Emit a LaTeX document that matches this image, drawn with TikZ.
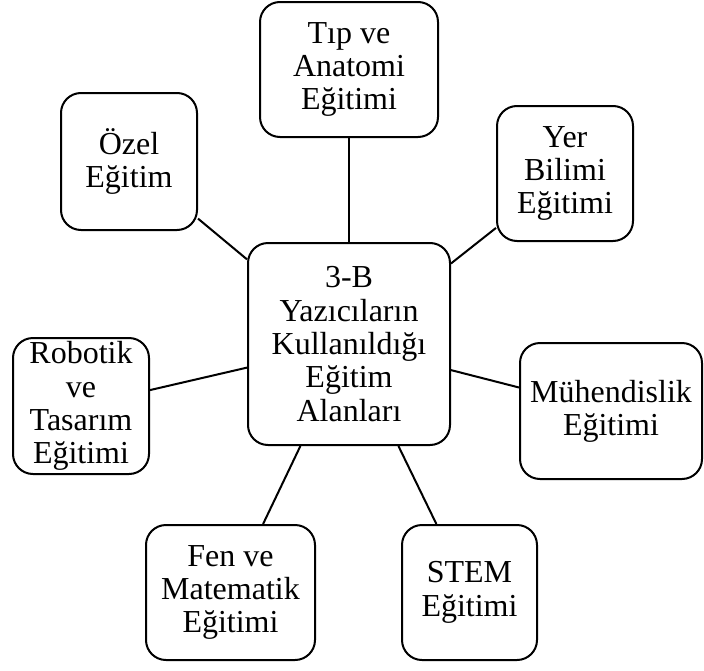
\documentclass[tikz,border=0pt]{standalone}
\usepackage{fontspec}
\setmainfont{Liberation Serif}
\usepackage{tikz}
\usetikzlibrary{calc,shapes,positioning}

\begin{document}
\begin{tikzpicture}[line width=2bp,
	area/.style={draw, rounded corners=20bp, align=center, inner sep=0pt,
		font=\fontsize{32bp}{33.3bp}\selectfont}]
	\useasboundingbox (0bp,0bp) rectangle (704bp,-671bp);

	\node (hub)   at (349bp,-344bp)   [area, minimum width=202bp, minimum height=202bp] {3-B\\Yazıcıların\\Kullanıldığı\\Eğitim\\Alanları};
	\node (tip)   at (349bp,-69.5bp)  [area, minimum width=178bp, minimum height=135bp] {Tıp ve\\Anatomi\\Eğitimi};
	\node (ozel)  at (129bp,-161.5bp) [area, minimum width=136bp, minimum height=137bp] {Özel\\Eğitim};
	\node (yer)   at (565bp,-173.5bp) [area, minimum width=136bp, minimum height=135bp] {Yer\\Bilimi\\Eğitimi};
	\node (muh)   at (611bp,-411bp)   [area, minimum width=182bp, minimum height=136bp] {Mühendislik\\Eğitimi};
	\node (robot) at (81bp,-406bp)    [area, minimum width=136bp, minimum height=136bp] {Robotik\\ve\\Tasarım\\Eğitimi};
	\node (fen)   at (230.5bp,-592.5bp) [area, minimum width=169bp, minimum height=135bp] {Fen ve\\Matematik\\Eğitimi};
	\node (stem)  at (469.5bp,-592.5bp) [area, minimum width=135bp, minimum height=135bp] {STEM\\Eğitimi};

	\draw (hub) -- (tip);
	\draw (hub) -- (ozel);
	\draw (hub) -- (yer);
	\draw (hub) -- (muh);
	\draw (hub) -- (robot);
	\draw (hub) -- (fen);
	\draw (hub) -- (stem);
\end{tikzpicture}
\end{document}
